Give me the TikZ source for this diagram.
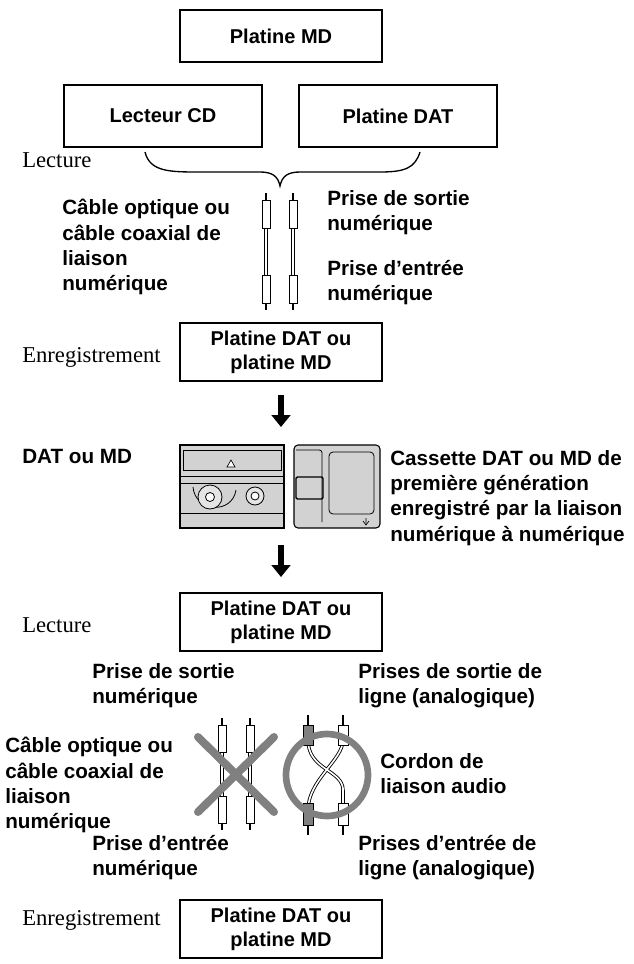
\documentclass[tikz,border=0pt]{standalone}
\usepackage{fontspec}
\setmainfont{Liberation Sans}
\newfontfamily\serif{Liberation Serif}
\usetikzlibrary{arrows.meta}
\begin{document}
\begin{tikzpicture}[x=0.75pt,y=-0.75pt,
  box/.style={draw,line width=1.3pt,inner sep=0pt,align=center,font=\bfseries\fontsize{15}{18}\selectfont},
  lab/.style={align=left,anchor=north west,inner sep=0pt,font=\bfseries\fontsize{15.5}{19}\selectfont},
  ser/.style={anchor=west,inner sep=0pt,font=\serif\fontsize{17}{20}\selectfont},
  barrow/.style={-{Triangle[length=9pt,width=14pt]},line width=5pt},
  cab/.style={draw,fill=white,line width=0.6pt}]
\useasboundingbox (0,0) rectangle (634,964);
\node[box,minimum width=151.5pt,minimum height=39pt] (md) at (281,36) {Platine MD};
\node[box,minimum width=148pt,minimum height=46pt] (cd) at (163,116) {Lecteur CD};
\node[box,minimum width=148pt,minimum height=46pt] (dat) at (398,116) {Platine DAT};
\node[ser] (l1) at (22,160) {Lecture};
\draw[line width=1pt] (145,152) .. controls (150,172) and (170,172) .. (200,172) -- (260,172) .. controls (272,172) and (278,176) .. (280,186) .. controls (282,176) and (288,172) .. (300,172) -- (380,172) .. controls (405,172) and (415,168) .. (420,152);
\coordinate (tip) at (280,186);
% cables top
\foreach \cx in {266,293}{
  \draw[line width=2.5pt] (\cx,205) -- (\cx,300);
  \draw[white,line width=1.2pt] (\cx,205) -- (\cx,300);
  \draw[cab] (\cx-4,200) rectangle (\cx+4,228);
  \draw[cab] (\cx-4,275) rectangle (\cx+4,303);
  \draw[line width=1.5pt] (\cx,193)--(\cx,200) (\cx,303)--(\cx,310);
}
\node[lab] (t1) at (62,199) {Câble optique ou\\câble coaxial de\\liaison\\numérique};
\node[lab] (t2) at (327,190) {Prise de sortie\\numérique};
\node[lab] (t3) at (327,260) {Prise d’entrée\\numérique};
\node[ser] (e1) at (22,357) {Enregistrement};
\node[box,minimum width=151.5pt,minimum height=44pt] (r1) at (281,352) {Platine DAT ou\\platine MD};
\draw[barrow] (281,395) -- (281,427);
\node[lab] (dm) at (22,449) {DAT ou MD};
% DAT cassette
\draw[fill=gray!35,line width=0.8pt] (180,445) rectangle (284,528);
\draw[line width=0.6pt] (183,450) rectangle (281,470) (180,476)--(284,476) (180,483)--(284,483) (180,513)--(284,513);
\draw[fill=white,line width=0.5pt] (227,467)--(231,460)--(235,467)--cycle;
\draw[line width=0.6pt] (193,487) .. controls (195,512) and (232,515) .. (236,490);
\draw[fill=gray!20,line width=0.6pt] (210,497) circle (12);
\draw[fill=white,line width=0.6pt] (210,497) circle (4.5);
\draw[fill=gray!20,line width=0.6pt] (255,496) circle (9);
\draw[fill=white,line width=0.6pt] (255,496) circle (4);
% MD
\draw[fill=gray!35,line width=0.8pt,rounded corners=3pt] (294,445) rectangle (380,528);
\draw[line width=0.6pt,rounded corners=2pt] (296,450) -- (322,450) -- (322,522);
\draw[line width=1pt,rounded corners=1pt] (296,477) rectangle (323,499);
\draw[line width=0.6pt,rounded corners=3pt] (329,452) rectangle (374,514);
\draw[line width=0.5pt] (366,518)--(366,523) (363,521)--(366,525)--(369,521);
\node[lab] (cas) at (390,450) {Cassette DAT ou MD de\\première génération\\enregistré par la liaison\\numérique à numérique};
\draw[barrow] (281,545) -- (281,577);
\node[ser] (l2) at (22,625) {Lecture};
\node[box,minimum width=151.5pt,minimum height=44pt] (p2) at (281,622) {Platine DAT ou\\platine MD};
\node[lab] (t4) at (92,663) {Prise de sortie\\numérique};
\node[lab] (t5) at (358,663) {Prises de sortie de\\ligne (analogique)};
\node[lab] (t6) at (5,737) {Câble optique ou\\câble coaxial de\\liaison\\numérique};
\node[lab] (t7) at (380,753) {Cordon de\\liaison audio};
\node[lab] (t8) at (92,835) {Prise d’entrée\\numérique};
\node[lab] (t9) at (358,835) {Prises d’entrée de\\ligne (analogique)};
% crossed cables
\foreach \cx in {222,250}{
  \draw[line width=2.5pt] (\cx,735) -- (\cx,810);
  \draw[white,line width=1.2pt] (\cx,735) -- (\cx,810);
  \draw[cab] (\cx-4,725) rectangle (\cx+4,752);
  \draw[cab] (\cx-4,796) rectangle (\cx+4,823);
  \draw[line width=1.5pt] (\cx,718)--(\cx,725) (\cx,823)--(\cx,830);
}
\draw[gray,line width=6pt,line cap=round] (198,737)--(274,812) (274,737)--(198,812);
% audio cables
\draw[line width=2.5pt] (308,740) .. controls (308,770) and (343,770) .. (343,790) (343,740) .. controls (343,760) and (308,780) .. (308,810);
\draw[white,line width=1.2pt] (308,740) .. controls (308,770) and (343,770) .. (343,790) (343,740) .. controls (343,760) and (308,780) .. (308,810);
\draw[line width=2.5pt] (343,790)--(343,810);
\draw[white,line width=1.2pt] (343,788)--(343,810);
\draw[cab,fill=gray] (303,725) rectangle (313,745);
\draw[cab] (338,725) rectangle (348,745);
\draw[cab,fill=gray] (303,803) rectangle (313,825);
\draw[cab] (338,803) rectangle (348,825);
\draw[line width=1.5pt] (308,715)--(308,725) (343,715)--(343,725) (308,825)--(308,835) (343,825)--(343,835);
\draw[gray,line width=5pt] (327,775) circle (41);
\node[ser] (e2) at (22,920) {Enregistrement};
\node[box,minimum width=151.5pt,minimum height=44pt] (r2) at (281,929) {Platine DAT ou\\platine MD};
\end{tikzpicture}
\end{document}
